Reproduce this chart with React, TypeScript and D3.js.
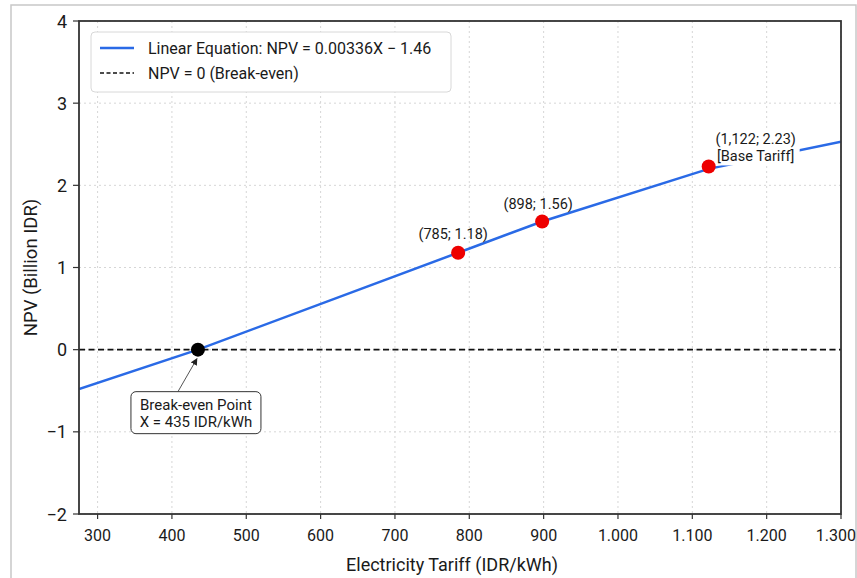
import React from "react";
import * as d3 from "d3";

// ---- data ----
const lineTariff = [275, 435, 785, 898, 1122, 1300];
const lineNPV = [-0.48, 0, 1.18, 1.56, 2.2, 2.53];
const pointTariff = [785, 898, 1122];
const pointNPV = [1.18, 1.56, 2.23];
const pointLabels = ["(785; 1.18)", "(898; 1.56)", "(1,122; 2.23)"];
const breakEvenTariff = 435;
const breakEvenNPV = 0;
const xTicks = [300, 400, 500, 600, 700, 800, 900, 1000, 1100, 1200, 1300];
const yTicks = [-2, -1, 0, 1, 2, 3, 4];
const xDomain = [275, 1300];
const yDomain = [-2, 4];
const legendLabels = ["Linear Equation: NPV = 0.00336X \u2212 1.46", "NPV = 0 (Break-even)"];

const W = 857;
const H = 578;
const M = { left: 79, right: 841, top: 21, bottom: 514 };
const FONT = "Roboto, 'Open Sans', sans-serif";
const BLUE = "#2a6ae6";
const TXT = "#1a1a1a";

export default function App() {
  const x = d3.scaleLinear().domain(xDomain).range([M.left, M.right]);
  const y = d3.scaleLinear().domain(yDomain).range([M.bottom, M.top]);
  const line = d3
    .line<number>()
    .x((d) => x(d))
    .y((_, i) => y(lineNPV[i]));
  const fmtX = (v: number) => d3.format(",")(v).replace(",", ".");
  const fmtY = (v: number) => (v < 0 ? "\u2212" + Math.abs(v) : String(v));

  const bx = x(breakEvenTariff);
  const by = y(breakEvenNPV);
  const boxW = 130;
  const boxH = 42;
  const boxCx = bx - 2;
  const boxTop = by + 42;

  const p3x = x(pointTariff[2]);
  const p3y = y(pointNPV[2]);

  return (
    <svg
      width={W}
      height={H}
      style={{ position: "absolute", left: 0, top: 0, background: "#fff" }}
      fontFamily={FONT}
    >
      <rect x={0} y={0} width={W} height={H} fill="#fff" />
      <rect x={11} y={5} width={845} height={600} fill="none" stroke="#c8c8c8" strokeWidth={1.5} />
      <defs>
        <clipPath id="plot">
          <rect x={M.left} y={M.top} width={M.right - M.left} height={M.bottom - M.top} />
        </clipPath>
        <marker id="arr" viewBox="0 0 10 10" refX={9} refY={5} markerWidth={7} markerHeight={7} orient="auto">
          <path d="M0,0 L10,5 L0,10 z" fill="#222" />
        </marker>
      </defs>

      {/* grid */}
      {xTicks.map((t) => (
        <line key={"gx" + t} x1={x(t)} x2={x(t)} y1={M.top} y2={M.bottom} stroke="#d6d6d6" strokeWidth={1} strokeDasharray="2,3" />
      ))}
      {yTicks.map((t) => (
        <line key={"gy" + t} x1={M.left} x2={M.right} y1={y(t)} y2={y(t)} stroke="#d6d6d6" strokeWidth={1} strokeDasharray="2,3" />
      ))}

      {/* zero line */}
      <line x1={M.left} x2={M.right} y1={y(0)} y2={y(0)} stroke="#111" strokeWidth={1.6} strokeDasharray="6,3.5" />

      {/* regression line */}
      <path d={line(lineTariff) || ""} fill="none" stroke={BLUE} strokeWidth={2.5} clipPath="url(#plot)" />

      {/* base tariff label background */}
      <rect x={p3x + 5} y={p3y - 38} width={86} height={37} fill="#fff" />

      {/* points */}
      {pointTariff.map((t, i) => (
        <circle key={"p" + t} cx={x(t)} cy={y(pointNPV[i])} r={7} fill="#ee0000" />
      ))}
      <circle cx={bx} cy={by} r={7} fill="#000" />

      {/* point labels */}
      <text x={x(pointTariff[0]) - 5} y={y(pointNPV[0]) - 14} textAnchor="middle" fontSize={14.5} fill={TXT}>
        {pointLabels[0]}
      </text>
      <text x={x(pointTariff[1]) - 4} y={y(pointNPV[1]) - 12} textAnchor="middle" fontSize={14.5} fill={TXT}>
        {pointLabels[1]}
      </text>
      <text x={p3x + 47} y={p3y - 22} textAnchor="middle" fontSize={14.5} fill={TXT}>
        {pointLabels[2]}
      </text>
      <text x={p3x + 47} y={p3y - 5} textAnchor="middle" fontSize={14.5} fill={TXT}>
        [Base Tariff]
      </text>

      {/* break-even annotation */}
      <line x1={boxCx - 18} y1={boxTop} x2={bx - 1} y2={by + 9} stroke="#555" strokeWidth={1} markerEnd="url(#arr)" />
      <rect x={boxCx - boxW / 2} y={boxTop} width={boxW} height={boxH} rx={5} fill="#fff" stroke="#333" strokeWidth={1} />
      <text x={boxCx} y={boxTop + 18} textAnchor="middle" fontSize={15} fill={TXT}>
        Break-even Point
      </text>
      <text x={boxCx} y={boxTop + 35} textAnchor="middle" fontSize={15} fill={TXT}>
        X = {breakEvenTariff} IDR/kWh
      </text>

      {/* frame */}
      <rect x={M.left} y={M.top} width={M.right - M.left} height={M.bottom - M.top} fill="none" stroke="#333" strokeWidth={1.8} />

      {/* x ticks */}
      {xTicks.map((t, i) => {
        const last = i === xTicks.length - 1;
        return (
          <g key={"xt" + t}>
            <line x1={x(t)} x2={x(t)} y1={M.bottom} y2={M.bottom + 5} stroke="#333" strokeWidth={1.2} />
            <text
              x={last ? 856 : x(t)}
              y={M.bottom + 27}
              textAnchor={last ? "end" : "middle"}
              fontSize={16}
              fill={TXT}
            >
              {fmtX(t)}
            </text>
          </g>
        );
      })}
      {/* y ticks */}
      {yTicks.map((t) => (
        <g key={"yt" + t}>
          <line x1={M.left - 6} x2={M.left} y1={y(t)} y2={y(t)} stroke="#333" strokeWidth={1.2} />
          <text x={M.left - 12} y={y(t) + 6.5} textAnchor="end" fontSize={18} fill={TXT}>
            {fmtY(t)}
          </text>
        </g>
      ))}

      {/* axis titles */}
      <text x={(M.left + M.right) / 2 - 8} y={571} textAnchor="middle" fontSize={18} fill={TXT}>
        Electricity Tariff (IDR/kWh)
      </text>
      <text
        transform={`translate(37,${(M.top + M.bottom) / 2}) rotate(-90)`}
        textAnchor="middle"
        fontSize={18.5}
        fill={TXT}
      >
        NPV (Billion IDR)
      </text>

      {/* legend */}
      <rect x={91} y={32} width={360} height={60} rx={4} fill="#fff" stroke="#d8d8d8" strokeWidth={1} />
      <line x1={100} x2={134} y1={48} y2={48} stroke={BLUE} strokeWidth={2.5} />
      <line x1={100} x2={134} y1={73} y2={73} stroke="#111" strokeWidth={1.5} strokeDasharray="4,2.5" />
      <text x={148} y={53.5} fontSize={16} fill={TXT}>
        {legendLabels[0]}
      </text>
      <text x={148} y={78.5} fontSize={16} fill={TXT}>
        {legendLabels[1]}
      </text>
    </svg>
  );
}
